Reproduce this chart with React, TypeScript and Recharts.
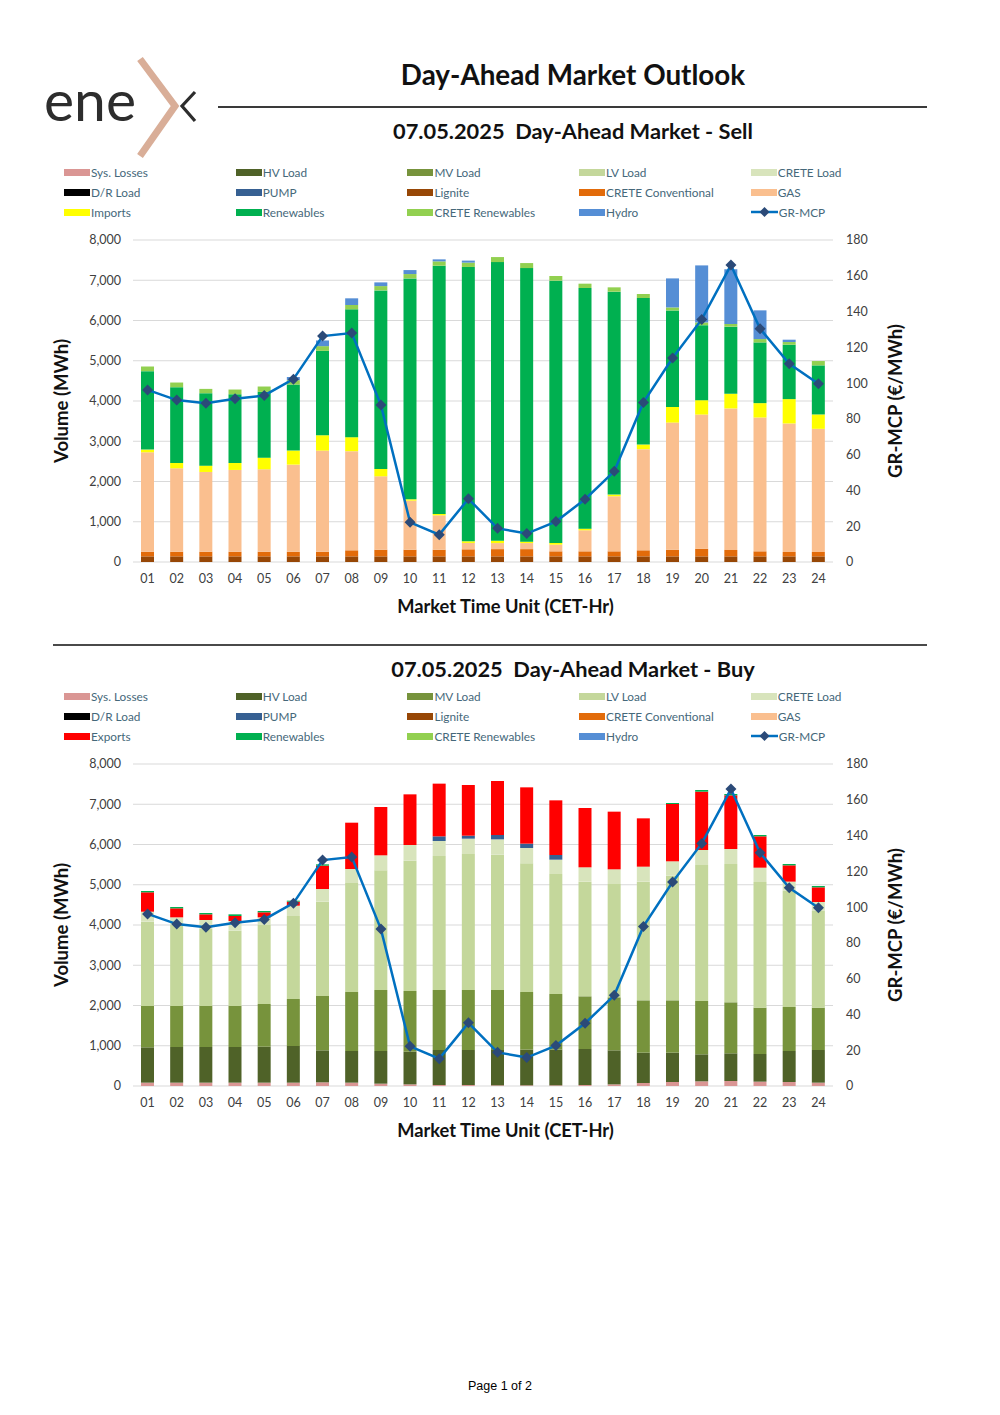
import React from 'react';
import { ComposedChart, Bar, Line, XAxis, YAxis, CartesianGrid } from 'recharts';

const HOURS = ['01', '02', '03', '04', '05', '06', '07', '08', '09', '10', '11', '12',
    '13', '14', '15', '16', '17', '18', '19', '20', '21', '22', '23', '24'];

// GR-MCP (€/MWh), same for both charts
const GR_MCP = [96.2, 90.5, 88.8, 91.2, 93.1, 102.2, 126.3, 128.0, 87.7, 22.2, 15.3, 35.3,
    18.8, 15.9, 22.6, 35.1, 50.7, 89.2, 114.0, 135.6, 166.0, 130.4, 110.8, 99.6];

// Sell side (MWh)
const SELL_LIGNITE = [140, 140, 140, 140, 140, 140, 140, 140, 140, 140, 140, 140,
    140, 140, 140, 140, 140, 140, 140, 140, 140, 140, 140, 140];
const SELL_CRETE_CONV = [115, 115, 115, 115, 115, 115, 115, 150, 165, 165, 165, 175,
    180, 180, 125, 125, 125, 150, 165, 190, 160, 125, 110, 110];
const SELL_GAS = [2471, 2073, 1982, 2032, 2048, 2164, 2513, 2463, 1824, 1219, 854, 158,
    150, 150, 166, 523, 1368, 2513, 3159, 3333, 3515, 3325, 3192, 3059];
const SELL_IMPORTS = [66, 133, 157, 174, 290, 349, 381, 348, 182, 33, 33, 41,
    58, 34, 42, 41, 42, 116, 390, 357, 365, 357, 605, 357];
const SELL_RENEWABLES = [1949, 1882, 1800, 1708, 1634, 1641, 2098, 3176, 4437, 5489, 6169, 6816,
    6923, 6798, 6517, 5979, 5041, 3640, 2396, 1865, 1667, 1509, 1352, 1219];
const SELL_CRETE_REN = [116, 116, 107, 116, 133, 108, 116, 108, 107, 108, 108, 108,
    125, 125, 116, 107, 108, 99, 75, 67, 66, 83, 66, 108];
const SELL_HYDRO = [0, 0, 0, 0, 0, 80, 141, 166, 92, 99, 50, 50,
    0, 0, 0, 0, 0, 0, 721, 1417, 1360, 713, 58, 0];

// Buy side (MWh)
const BUY_LOSSES = [83, 83, 83, 83, 83, 83, 91, 83, 58, 41, 25, 25,
    17, 17, 17, 25, 41, 75, 99, 116, 124, 108, 99, 83];
const BUY_HV = [878, 886, 886, 886, 894, 911, 795, 787, 812, 812, 869, 869,
    877, 886, 886, 894, 845, 753, 729, 671, 688, 687, 771, 811];
const BUY_MV = [1027, 1019, 1019, 1019, 1060, 1167, 1350, 1465, 1515, 1507, 1491, 1491,
    1491, 1432, 1383, 1309, 1317, 1300, 1300, 1325, 1267, 1151, 1093, 1052];
const BUY_LV = [2095, 2012, 1912, 1871, 1963, 2063, 2344, 2708, 2973, 3238, 3329, 3379,
    3362, 3197, 2981, 2849, 2816, 2949, 3098, 3379, 3437, 3122, 2887, 2404];
const BUY_CRETE_LOAD = [247, 190, 224, 240, 190, 256, 314, 348, 373, 390, 373, 381,
    381, 381, 356, 356, 364, 372, 356, 372, 372, 356, 227, 221];
const BUY_PUMP = [0, 0, 0, 0, 0, 0, 0, 0, 0, 0, 116, 74,
    108, 108, 116, 0, 0, 0, 0, 0, 0, 0, 0, 0];
const BUY_EXPORTS = [482, 224, 141, 125, 125, 100, 580, 1151, 1201, 1258, 1309, 1259,
    1342, 1399, 1358, 1474, 1433, 1201, 1424, 1450, 1334, 779, 405, 365];
const BUY_RENEWABLES = [33, 33, 33, 41, 33, 25, 33, 0, 0, 0, 0, 0,
    0, 0, 0, 0, 0, 0, 25, 41, 33, 33, 33, 33];

const COLORS = {
    losses: '#DA9694',
    hv: '#4F6228',
    mv: '#77933C',
    lv: '#C4D79B',
    creteLoad: '#D8E4BC',
    dr: '#000000',
    pump: '#366092',
    lignite: '#974706',
    creteConv: '#E26B0A',
    gas: '#FABF8F',
    imports: '#FFFF00',
    exports: '#FF0000',
    renewables: '#00B050',
    creteRen: '#92D050',
    hydro: '#558ED5',
    line: '#0070C0',
    marker: '#2B4A78',
};

const FONT = 'Lato, "DejaVu Sans", sans-serif';

const SELL_SERIES = [
    { key: 'lignite', color: COLORS.lignite, values: SELL_LIGNITE },
    { key: 'creteConv', color: COLORS.creteConv, values: SELL_CRETE_CONV },
    { key: 'gas', color: COLORS.gas, values: SELL_GAS },
    { key: 'imports', color: COLORS.imports, values: SELL_IMPORTS },
    { key: 'renewables', color: COLORS.renewables, values: SELL_RENEWABLES },
    { key: 'creteRen', color: COLORS.creteRen, values: SELL_CRETE_REN },
    { key: 'hydro', color: COLORS.hydro, values: SELL_HYDRO },
];

const BUY_SERIES = [
    { key: 'losses', color: COLORS.losses, values: BUY_LOSSES },
    { key: 'hv', color: COLORS.hv, values: BUY_HV },
    { key: 'mv', color: COLORS.mv, values: BUY_MV },
    { key: 'lv', color: COLORS.lv, values: BUY_LV },
    { key: 'creteLoad', color: COLORS.creteLoad, values: BUY_CRETE_LOAD },
    { key: 'pump', color: COLORS.pump, values: BUY_PUMP },
    { key: 'exports', color: COLORS.exports, values: BUY_EXPORTS },
    { key: 'renewables', color: COLORS.renewables, values: BUY_RENEWABLES },
];

const legendItems = (third: string) => [
    ['Sys. Losses', COLORS.losses],
    ['HV Load', COLORS.hv],
    ['MV Load', COLORS.mv],
    ['LV Load', COLORS.lv],
    ['CRETE Load', COLORS.creteLoad],
    ['D/R Load', COLORS.dr],
    ['PUMP', COLORS.pump],
    ['Lignite', COLORS.lignite],
    ['CRETE Conventional', COLORS.creteConv],
    ['GAS', COLORS.gas],
    [third, third === 'Imports' ? COLORS.imports : COLORS.exports],
    ['Renewables', COLORS.renewables],
    ['CRETE Renewables', COLORS.creteRen],
    ['Hydro', COLORS.hydro],
    ['GR-MCP', 'line'],
];

const VOL_TICKS = [0, 1000, 2000, 3000, 4000, 5000, 6000, 7000, 8000];
const PRICE_TICKS = [0, 20, 40, 60, 80, 100, 120, 140, 160, 180];

function buildRows(series: { key: string; values: number[] }[]) {
    return HOURS.map((h, i) => {
        const row: Record<string, any> = { hour: h, price: GR_MCP[i] };
        series.forEach((s) => {
            row[s.key] = s.values[i];
        });
        return row;
    });
}

const Diamond = (props: any) => {
    const { cx, cy, index } = props;
    if (cx == null || cy == null) return null;
    const r = 5.5;
    return (
        <polygon
            key={'dot-' + index}
            points={`${cx},${cy - r} ${cx + r},${cy} ${cx},${cy + r} ${cx - r},${cy}`}
            fill={COLORS.marker}
        />
    );
};

function Legend({ top, third }: { top: number; third: string }) {
    const items = legendItems(third);
    return (
        <>
            {items.map(([name, color], i) => {
                const col = i % 5;
                const row = Math.floor(i / 5);
                return (
                    <div
                        key={name}
                        style={{
                            position: 'absolute',
                            left: 64 + col * 171.7,
                            top: top + row * 20 - 8,
                            height: 16,
                            display: 'flex',
                            alignItems: 'center',
                            fontFamily: FONT,
                            fontSize: 11.8,
                            color: '#45687A',
                            whiteSpace: 'nowrap',
                        }}
                    >
                        {color === 'line' ? (
                            <svg width={27} height={12} style={{ marginRight: 1 }}>
                                <line x1={0} y1={6} x2={27} y2={6} stroke={COLORS.line} strokeWidth={2.5} />
                                <polygon points="13.5,1 18.5,6 13.5,11 8.5,6" fill={COLORS.marker} />
                            </svg>
                        ) : (
                            <span
                                style={{
                                    display: 'inline-block',
                                    width: 26,
                                    height: 7,
                                    background: color,
                                    marginRight: 1,
                                }}
                            />
                        )}
                        {name}
                    </div>
                );
            })}
        </>
    );
}

const rotatedLabel = {
    transform: 'rotate(-90deg)',
    whiteSpace: 'nowrap' as const,
    fontFamily: FONT,
    fontWeight: 700,
    fontSize: 18.5,
    color: '#111',
};

function MarketPanel({
    subtitle,
    subtitleY,
    legendY,
    third,
    plotTop,
    series,
}: {
    subtitle: string;
    subtitleY: number;
    legendY: number;
    third: string;
    plotTop: number;
    series: { key: string; color: string; values: number[] }[];
}) {
    const rows = buildRows(series);
    return (
        <>
            <div
                style={{
                    position: 'absolute',
                    left: 218,
                    width: 710,
                    top: subtitleY - 14,
                    textAlign: 'center',
                    fontFamily: FONT,
                    fontWeight: 700,
                    fontSize: 21.8,
                    color: '#111',
                    whiteSpace: 'pre',
                }}
            >
                {subtitle}
            </div>
            <Legend top={legendY} third={third} />
            <div style={{ position: 'absolute', left: 0, top: plotTop - 10 }}>
                <ComposedChart
                    width={1000}
                    height={362}
                    data={rows}
                    margin={{ top: 10, right: 107, bottom: 0, left: 73 }}
                    barSize={13}
                >
                    <CartesianGrid yAxisId="vol" vertical={false} stroke="#D9D9D9" strokeWidth={1.2} />
                    <XAxis
                        dataKey="hour"
                        height={30}
                        tickLine={false}
                        axisLine={false}
                        tickMargin={6}
                        tick={{ fill: '#404040', fontSize: 12.5, fontFamily: FONT }}
                        interval={0}
                    />
                    <YAxis
                        yAxisId="vol"
                        width={60}
                        domain={[0, 8000]}
                        ticks={VOL_TICKS}
                        tickLine={false}
                        axisLine={false}
                        tickMargin={6}
                        tickFormatter={(v: number) => v.toLocaleString('en-US')}
                        tick={{ fill: '#404040', fontSize: 12.5, fontFamily: FONT }}
                    />
                    <YAxis
                        yAxisId="price"
                        orientation="right"
                        width={60}
                        domain={[0, 180]}
                        ticks={PRICE_TICKS}
                        tickLine={false}
                        axisLine={false}
                        tickMargin={7}
                        tick={{ fill: '#404040', fontSize: 12.5, fontFamily: FONT, textAnchor: 'start' }}
                    />
                    {series.map((s) => (
                        <Bar
                            key={s.key}
                            yAxisId="vol"
                            dataKey={s.key}
                            stackId="stack"
                            fill={s.color}
                            isAnimationActive={false}
                        />
                    ))}
                    <Line
                        yAxisId="price"
                        type="linear"
                        dataKey="price"
                        stroke={COLORS.line}
                        strokeWidth={2.5}
                        dot={Diamond}
                        activeDot={false}
                        isAnimationActive={false}
                    />
                </ComposedChart>
            </div>
            <div
                style={{
                    position: 'absolute',
                    left: 33,
                    width: 56,
                    top: plotTop,
                    height: 322,
                    display: 'flex',
                    alignItems: 'center',
                    justifyContent: 'center',
                }}
            >
                <div style={rotatedLabel}>Volume (MWh)</div>
            </div>
            <div
                style={{
                    position: 'absolute',
                    left: 867,
                    width: 56,
                    top: plotTop,
                    height: 322,
                    display: 'flex',
                    alignItems: 'center',
                    justifyContent: 'center',
                }}
            >
                <div style={rotatedLabel}>GR-MCP (€/MWh)</div>
            </div>
            <div
                style={{
                    position: 'absolute',
                    left: 133,
                    width: 745,
                    top: plotTop + 322 + 33,
                    textAlign: 'center',
                    fontFamily: FONT,
                    fontWeight: 700,
                    fontSize: 18.3,
                    color: '#111',
                }}
            >
                Market Time Unit (CET-Hr)
            </div>
        </>
    );
}

function Logo() {
    return (
        <svg
            width={170}
            height={110}
            viewBox="40 52 170 110"
            style={{ position: 'absolute', left: 40, top: 52 }}
        >
            <text x={44} y={121} fontFamily={FONT} fontWeight={400} fontSize={57} fill="#2D2D2D">
                ene
            </text>
            <polyline
                points="140,59 175,106 140,156"
                fill="none"
                stroke="#D9AE98"
                strokeWidth={7}
                strokeLinejoin="miter"
            />
            <polyline points="195,92 182,106 195,121" fill="none" stroke="#2D2D2D" strokeWidth={3.2} />
        </svg>
    );
}

export default function App() {
    return (
        <div
            style={{
                position: 'absolute',
                left: 0,
                top: 0,
                width: 1000,
                height: 1415,
                background: '#fff',
                overflow: 'hidden',
            }}
        >
            <Logo />
            <div
                style={{
                    position: 'absolute',
                    left: 218,
                    width: 710,
                    top: 58,
                    textAlign: 'center',
                    fontFamily: FONT,
                    fontWeight: 700,
                    fontSize: 27.8,
                    color: '#111',
                }}
            >
                Day-Ahead Market Outlook
            </div>
            <div style={{ position: 'absolute', left: 218, top: 106, width: 709, height: 1.5, background: '#3A3A3A' }} />
            <MarketPanel
                subtitle={'07.05.2025  Day-Ahead Market - Sell'}
                subtitleY={131}
                legendY={172}
                third="Imports"
                plotTop={240}
                series={SELL_SERIES}
            />
            <div style={{ position: 'absolute', left: 53, top: 644, width: 874, height: 2, background: '#4A4A4A' }} />
            <MarketPanel
                subtitle={'07.05.2025  Day-Ahead Market - Buy'}
                subtitleY={669}
                legendY={696}
                third="Exports"
                plotTop={764}
                series={BUY_SERIES}
            />
            <div
                style={{
                    position: 'absolute',
                    left: 0,
                    width: 1000,
                    top: 1379,
                    textAlign: 'center',
                    fontFamily: '"Liberation Sans", Arial, sans-serif',
                    fontSize: 12.5,
                    color: '#000',
                }}
            >
                Page 1 of 2
            </div>
        </div>
    );
}
